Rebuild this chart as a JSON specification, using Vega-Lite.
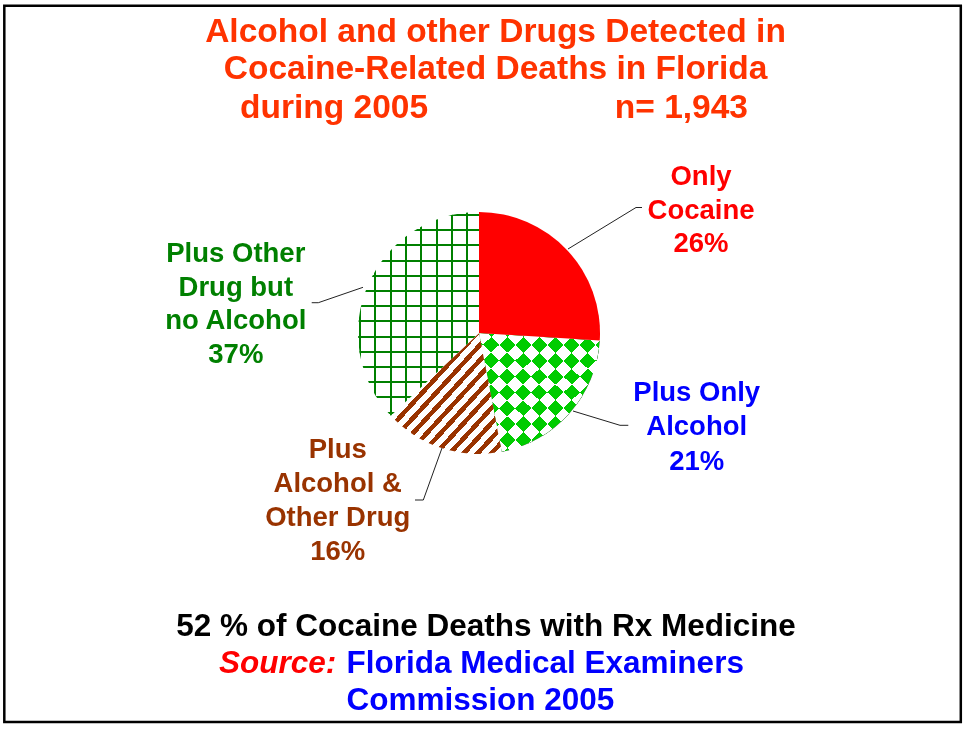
{
  "$schema": "https://vega.github.io/schema/vega-lite/v6.json",
  "width": 965,
  "height": 729,
  "padding": 0,
  "autosize": {"type": "none"},
  "background": "white",
  "config": {"view": {"stroke": null}},
  "datasets": {
    "slices": [
      {"cat": "Only Cocaine", "pct": 26, "ord": 1, "label": ["Only", "Cocaine", "26%"]},
      {"cat": "Plus Only Alcohol", "pct": 21, "ord": 2, "label": ["Plus Only", "Alcohol", "21%"]},
      {"cat": "Plus Alcohol & Other Drug", "pct": 16, "ord": 3, "label": ["Plus", "Alcohol &", "Other Drug", "16%"]},
      {"cat": "Plus Other Drug but no Alcohol", "pct": 37, "ord": 4, "label": ["Plus Other", "Drug but", "no Alcohol", "37%"]}
    ]
  },
  "data": {"values": [{}]},
  "layer": [
    {
      "mark": {"type": "rect", "fill": "transparent", "stroke": "#000000", "strokeWidth": 2.5},
      "encoding": {
        "x": {"datum": -3.9231, "type": "quantitative", "scale": {"domain": [-3.9587, 4.0165], "nice": false, "zero": false}, "axis": null},
        "x2": {"datum": 3.9818},
        "y": {"datum": 2.705, "type": "quantitative", "scale": {"domain": [-3.2727, 2.7521], "nice": false, "zero": false}, "axis": null},
        "y2": {"datum": -3.214}
      }
    },
    {
      "data": {"name": "slices"},
      "transform": [
        {"stack": "pct", "groupby": [], "sort": [{"field": "ord", "order": "ascending"}], "as": ["p0", "p1"]}
      ],
      "encoding": {
        "x": {"datum": 0, "type": "quantitative", "scale": {"domain": [-3.9587, 4.0165], "nice": false, "zero": false}, "axis": null},
        "y": {"datum": 0, "type": "quantitative", "scale": {"domain": [-3.2727, 2.7521], "nice": false, "zero": false}, "axis": null},
        "theta": {"field": "p0", "type": "quantitative", "scale": {"domain": [0, 100]}},
        "theta2": {"field": "p1"}
      },
      "layer": [
        {
          "transform": [{"filter": "datum.ord === 2"}],
          "mark": {"type": "arc", "radius": 121, "fill": {"gradient": "linear", "x1": 0, "y1": 0, "x2": 1, "y2": 1, "stops": [
            {"offset": 0, "color": "#000000"}, {"offset": 0.0667, "color": "#000000"}, {"offset": 0.0667, "color": "#ffffff"}, {"offset": 0.1333, "color": "#ffffff"},
            {"offset": 0.1333, "color": "#000000"}, {"offset": 0.2, "color": "#000000"}, {"offset": 0.2, "color": "#ffffff"}, {"offset": 0.2667, "color": "#ffffff"},
            {"offset": 0.2667, "color": "#000000"}, {"offset": 0.3333, "color": "#000000"}, {"offset": 0.3333, "color": "#ffffff"}, {"offset": 0.4, "color": "#ffffff"},
            {"offset": 0.4, "color": "#000000"}, {"offset": 0.4667, "color": "#000000"}, {"offset": 0.4667, "color": "#ffffff"}, {"offset": 0.5333, "color": "#ffffff"},
            {"offset": 0.5333, "color": "#000000"}, {"offset": 0.6, "color": "#000000"}, {"offset": 0.6, "color": "#ffffff"}, {"offset": 0.6667, "color": "#ffffff"},
            {"offset": 0.6667, "color": "#000000"}, {"offset": 0.7333, "color": "#000000"}, {"offset": 0.7333, "color": "#ffffff"}, {"offset": 0.8, "color": "#ffffff"},
            {"offset": 0.8, "color": "#000000"}, {"offset": 0.8667, "color": "#000000"}, {"offset": 0.8667, "color": "#ffffff"}, {"offset": 0.9333, "color": "#ffffff"},
            {"offset": 0.9333, "color": "#000000"}, {"offset": 1, "color": "#000000"}]}}
        },
        {
          "transform": [{"filter": "datum.ord === 2"}],
          "mark": {"type": "arc", "radius": 121, "blend": "difference", "fill": {"gradient": "linear", "x1": 0, "y1": 1, "x2": 1, "y2": 0, "stops": [
            {"offset": 0, "color": "#000000"}, {"offset": 0.0667, "color": "#000000"}, {"offset": 0.0667, "color": "#ffffff"}, {"offset": 0.1333, "color": "#ffffff"},
            {"offset": 0.1333, "color": "#000000"}, {"offset": 0.2, "color": "#000000"}, {"offset": 0.2, "color": "#ffffff"}, {"offset": 0.2667, "color": "#ffffff"},
            {"offset": 0.2667, "color": "#000000"}, {"offset": 0.3333, "color": "#000000"}, {"offset": 0.3333, "color": "#ffffff"}, {"offset": 0.4, "color": "#ffffff"},
            {"offset": 0.4, "color": "#000000"}, {"offset": 0.4667, "color": "#000000"}, {"offset": 0.4667, "color": "#ffffff"}, {"offset": 0.5333, "color": "#ffffff"},
            {"offset": 0.5333, "color": "#000000"}, {"offset": 0.6, "color": "#000000"}, {"offset": 0.6, "color": "#ffffff"}, {"offset": 0.6667, "color": "#ffffff"},
            {"offset": 0.6667, "color": "#000000"}, {"offset": 0.7333, "color": "#000000"}, {"offset": 0.7333, "color": "#ffffff"}, {"offset": 0.8, "color": "#ffffff"},
            {"offset": 0.8, "color": "#000000"}, {"offset": 0.8667, "color": "#000000"}, {"offset": 0.8667, "color": "#ffffff"}, {"offset": 0.9333, "color": "#ffffff"},
            {"offset": 0.9333, "color": "#000000"}, {"offset": 1, "color": "#000000"}]}}
        },
        {
          "transform": [{"filter": "datum.ord === 2"}],
          "mark": {"type": "arc", "radius": 121, "blend": "screen", "fill": "#00cc00"}
        },
        {
          "transform": [{"filter": "datum.ord === 3"}],
          "mark": {"type": "arc", "radius": 121, "fill": {"gradient": "linear", "x1": 0, "y1": 0, "x2": 1, "y2": 1, "stops": [
            {"offset": 0, "color": "#993300"}, {"offset": 0.028, "color": "#993300"}, {"offset": 0.028, "color": "#ffffff"}, {"offset": 0.0625, "color": "#ffffff"},
            {"offset": 0.0625, "color": "#993300"}, {"offset": 0.0905, "color": "#993300"}, {"offset": 0.0905, "color": "#ffffff"}, {"offset": 0.125, "color": "#ffffff"},
            {"offset": 0.125, "color": "#993300"}, {"offset": 0.153, "color": "#993300"}, {"offset": 0.153, "color": "#ffffff"}, {"offset": 0.1875, "color": "#ffffff"},
            {"offset": 0.1875, "color": "#993300"}, {"offset": 0.2155, "color": "#993300"}, {"offset": 0.2155, "color": "#ffffff"}, {"offset": 0.25, "color": "#ffffff"},
            {"offset": 0.25, "color": "#993300"}, {"offset": 0.278, "color": "#993300"}, {"offset": 0.278, "color": "#ffffff"}, {"offset": 0.3125, "color": "#ffffff"},
            {"offset": 0.3125, "color": "#993300"}, {"offset": 0.3405, "color": "#993300"}, {"offset": 0.3405, "color": "#ffffff"}, {"offset": 0.375, "color": "#ffffff"},
            {"offset": 0.375, "color": "#993300"}, {"offset": 0.403, "color": "#993300"}, {"offset": 0.403, "color": "#ffffff"}, {"offset": 0.4375, "color": "#ffffff"},
            {"offset": 0.4375, "color": "#993300"}, {"offset": 0.4655, "color": "#993300"}, {"offset": 0.4655, "color": "#ffffff"}, {"offset": 0.5, "color": "#ffffff"},
            {"offset": 0.5, "color": "#993300"}, {"offset": 0.528, "color": "#993300"}, {"offset": 0.528, "color": "#ffffff"}, {"offset": 0.5625, "color": "#ffffff"},
            {"offset": 0.5625, "color": "#993300"}, {"offset": 0.5905, "color": "#993300"}, {"offset": 0.5905, "color": "#ffffff"}, {"offset": 0.625, "color": "#ffffff"},
            {"offset": 0.625, "color": "#993300"}, {"offset": 0.653, "color": "#993300"}, {"offset": 0.653, "color": "#ffffff"}, {"offset": 0.6875, "color": "#ffffff"},
            {"offset": 0.6875, "color": "#993300"}, {"offset": 0.7155, "color": "#993300"}, {"offset": 0.7155, "color": "#ffffff"}, {"offset": 0.75, "color": "#ffffff"},
            {"offset": 0.75, "color": "#993300"}, {"offset": 0.778, "color": "#993300"}, {"offset": 0.778, "color": "#ffffff"}, {"offset": 0.8125, "color": "#ffffff"},
            {"offset": 0.8125, "color": "#993300"}, {"offset": 0.8405, "color": "#993300"}, {"offset": 0.8405, "color": "#ffffff"}, {"offset": 0.875, "color": "#ffffff"},
            {"offset": 0.875, "color": "#993300"}, {"offset": 0.903, "color": "#993300"}, {"offset": 0.903, "color": "#ffffff"}, {"offset": 0.9375, "color": "#ffffff"},
            {"offset": 0.9375, "color": "#993300"}, {"offset": 0.9655, "color": "#993300"}, {"offset": 0.9655, "color": "#ffffff"}, {"offset": 1, "color": "#ffffff"}]}}
        },
        {
          "transform": [{"filter": "datum.ord === 4"}],
          "mark": {"type": "arc", "radius": 121, "fill": {"gradient": "linear", "x1": 0, "y1": 0, "x2": 1, "y2": 0, "stops": [
            {"offset": 0, "color": "#ffffff"}, {"offset": 0.0099, "color": "#ffffff"}, {"offset": 0.0099, "color": "#008000"}, {"offset": 0.0264, "color": "#008000"},
            {"offset": 0.0264, "color": "#ffffff"}, {"offset": 0.1361, "color": "#ffffff"}, {"offset": 0.1361, "color": "#008000"}, {"offset": 0.1526, "color": "#008000"},
            {"offset": 0.1526, "color": "#ffffff"}, {"offset": 0.2623, "color": "#ffffff"}, {"offset": 0.2623, "color": "#008000"}, {"offset": 0.2788, "color": "#008000"},
            {"offset": 0.2788, "color": "#ffffff"}, {"offset": 0.3885, "color": "#ffffff"}, {"offset": 0.3885, "color": "#008000"}, {"offset": 0.405, "color": "#008000"},
            {"offset": 0.405, "color": "#ffffff"}, {"offset": 0.5147, "color": "#ffffff"}, {"offset": 0.5147, "color": "#008000"}, {"offset": 0.5312, "color": "#008000"},
            {"offset": 0.5312, "color": "#ffffff"}, {"offset": 0.6409, "color": "#ffffff"}, {"offset": 0.6409, "color": "#008000"}, {"offset": 0.6574, "color": "#008000"},
            {"offset": 0.6574, "color": "#ffffff"}, {"offset": 0.7671, "color": "#ffffff"}, {"offset": 0.7671, "color": "#008000"}, {"offset": 0.7836, "color": "#008000"},
            {"offset": 0.7836, "color": "#ffffff"}, {"offset": 0.8933, "color": "#ffffff"}, {"offset": 0.8933, "color": "#008000"}, {"offset": 0.9098, "color": "#008000"},
            {"offset": 0.9098, "color": "#ffffff"}, {"offset": 1, "color": "#ffffff"}]}}
        },
        {
          "transform": [{"filter": "datum.ord === 4"}],
          "mark": {"type": "arc", "radius": 121, "fill": {"gradient": "linear", "x1": 0, "y1": 0, "x2": 0, "y2": 1, "stops": [
            {"offset": 0, "color": "rgba(0,128,0,0)"}, {"offset": 0.0098, "color": "rgba(0,128,0,0)"}, {"offset": 0.0098, "color": "#008000"}, {"offset": 0.0196, "color": "#008000"},
            {"offset": 0.0196, "color": "rgba(0,128,0,0)"}, {"offset": 0.0844, "color": "rgba(0,128,0,0)"}, {"offset": 0.0844, "color": "#008000"}, {"offset": 0.0942, "color": "#008000"},
            {"offset": 0.0942, "color": "rgba(0,128,0,0)"}, {"offset": 0.159, "color": "rgba(0,128,0,0)"}, {"offset": 0.159, "color": "#008000"}, {"offset": 0.1688, "color": "#008000"},
            {"offset": 0.1688, "color": "rgba(0,128,0,0)"}, {"offset": 0.2336, "color": "rgba(0,128,0,0)"}, {"offset": 0.2336, "color": "#008000"}, {"offset": 0.2434, "color": "#008000"},
            {"offset": 0.2434, "color": "rgba(0,128,0,0)"}, {"offset": 0.3082, "color": "rgba(0,128,0,0)"}, {"offset": 0.3082, "color": "#008000"}, {"offset": 0.318, "color": "#008000"},
            {"offset": 0.318, "color": "rgba(0,128,0,0)"}, {"offset": 0.3827, "color": "rgba(0,128,0,0)"}, {"offset": 0.3827, "color": "#008000"}, {"offset": 0.3925, "color": "#008000"},
            {"offset": 0.3925, "color": "rgba(0,128,0,0)"}, {"offset": 0.4573, "color": "rgba(0,128,0,0)"}, {"offset": 0.4573, "color": "#008000"}, {"offset": 0.4671, "color": "#008000"},
            {"offset": 0.4671, "color": "rgba(0,128,0,0)"}, {"offset": 0.5319, "color": "rgba(0,128,0,0)"}, {"offset": 0.5319, "color": "#008000"}, {"offset": 0.5417, "color": "#008000"},
            {"offset": 0.5417, "color": "rgba(0,128,0,0)"}, {"offset": 0.6065, "color": "rgba(0,128,0,0)"}, {"offset": 0.6065, "color": "#008000"}, {"offset": 0.6163, "color": "#008000"},
            {"offset": 0.6163, "color": "rgba(0,128,0,0)"}, {"offset": 0.6811, "color": "rgba(0,128,0,0)"}, {"offset": 0.6811, "color": "#008000"}, {"offset": 0.6909, "color": "#008000"},
            {"offset": 0.6909, "color": "rgba(0,128,0,0)"}, {"offset": 0.7557, "color": "rgba(0,128,0,0)"}, {"offset": 0.7557, "color": "#008000"}, {"offset": 0.7655, "color": "#008000"},
            {"offset": 0.7655, "color": "rgba(0,128,0,0)"}, {"offset": 0.8302, "color": "rgba(0,128,0,0)"}, {"offset": 0.8302, "color": "#008000"}, {"offset": 0.84, "color": "#008000"},
            {"offset": 0.84, "color": "rgba(0,128,0,0)"}, {"offset": 0.9048, "color": "rgba(0,128,0,0)"}, {"offset": 0.9048, "color": "#008000"}, {"offset": 0.9146, "color": "#008000"},
            {"offset": 0.9146, "color": "rgba(0,128,0,0)"}, {"offset": 0.9794, "color": "rgba(0,128,0,0)"}, {"offset": 0.9794, "color": "#008000"}, {"offset": 0.9892, "color": "#008000"},
            {"offset": 0.9892, "color": "rgba(0,128,0,0)"}, {"offset": 1, "color": "rgba(0,128,0,0)"}]}}
        },
        {
          "transform": [{"filter": "datum.ord === 1"}],
          "mark": {"type": "arc", "radius": 121, "fill": "#ff0000"}
        },
        {
          "transform": [{"filter": "datum.ord === 1"}],
          "mark": {"type": "text", "align": "center", "baseline": "alphabetic", "lineHeight": 33.5, "font": "Liberation Sans", "fontSize": 27.5, "fontWeight": "bold", "fill": "#ff0000"},
          "encoding": {
            "x": {"datum": 1.8347, "type": "quantitative", "scale": {"domain": [-3.9587, 4.0165], "nice": false, "zero": false}, "axis": null},
            "y": {"datum": 1.2231, "type": "quantitative", "scale": {"domain": [-3.2727, 2.7521], "nice": false, "zero": false}, "axis": null},
            "text": {"field": "label"},
            "theta": null, "theta2": null
          }
        },
        {
          "transform": [{"filter": "datum.ord === 2"}],
          "mark": {"type": "text", "align": "center", "baseline": "alphabetic", "lineHeight": 34.7, "font": "Liberation Sans", "fontSize": 27.5, "fontWeight": "bold", "fill": "#0000ff"},
          "encoding": {
            "x": {"datum": 1.7992, "type": "quantitative", "scale": {"domain": [-3.9587, 4.0165], "nice": false, "zero": false}, "axis": null},
            "y": {"datum": -0.5595, "type": "quantitative", "scale": {"domain": [-3.2727, 2.7521], "nice": false, "zero": false}, "axis": null},
            "text": {"field": "label"},
            "theta": null, "theta2": null
          }
        },
        {
          "transform": [{"filter": "datum.ord === 3"}],
          "mark": {"type": "text", "align": "center", "baseline": "alphabetic", "lineHeight": 33.9, "font": "Liberation Sans", "fontSize": 27.5, "fontWeight": "bold", "fill": "#993300"},
          "encoding": {
            "x": {"datum": -1.1678, "type": "quantitative", "scale": {"domain": [-3.9587, 4.0165], "nice": false, "zero": false}, "axis": null},
            "y": {"datum": -1.0355, "type": "quantitative", "scale": {"domain": [-3.2727, 2.7521], "nice": false, "zero": false}, "axis": null},
            "text": {"field": "label"},
            "theta": null, "theta2": null
          }
        },
        {
          "transform": [{"filter": "datum.ord === 4"}],
          "mark": {"type": "text", "align": "center", "baseline": "alphabetic", "lineHeight": 33.9, "font": "Liberation Sans", "fontSize": 27.5, "fontWeight": "bold", "fill": "#008000"},
          "encoding": {
            "x": {"datum": -2.0099, "type": "quantitative", "scale": {"domain": [-3.9587, 4.0165], "nice": false, "zero": false}, "axis": null},
            "y": {"datum": 0.5893, "type": "quantitative", "scale": {"domain": [-3.2727, 2.7521], "nice": false, "zero": false}, "axis": null},
            "text": {"field": "label"},
            "theta": null, "theta2": null
          }
        }
      ]
    },
    {
      "mark": {"type": "rule", "stroke": "#222222", "strokeWidth": 1},
      "encoding": {
        "x": {"datum": 0.7355, "type": "quantitative", "scale": {"domain": [-3.9587, 4.0165], "nice": false, "zero": false}, "axis": null},
        "y": {"datum": 0.6942, "type": "quantitative", "scale": {"domain": [-3.2727, 2.7521], "nice": false, "zero": false}, "axis": null},
        "x2": {"datum": 1.2975}, "y2": {"datum": 1.0372}
      }
    },
    {
      "mark": {"type": "rule", "stroke": "#222222", "strokeWidth": 1},
      "encoding": {
        "x": {"datum": 1.2975, "type": "quantitative", "scale": {"domain": [-3.9587, 4.0165], "nice": false, "zero": false}, "axis": null},
        "y": {"datum": 1.0372, "type": "quantitative", "scale": {"domain": [-3.2727, 2.7521], "nice": false, "zero": false}, "axis": null},
        "x2": {"datum": 1.3471}, "y2": {"datum": 1.0372}
      }
    },
    {
      "mark": {"type": "rule", "stroke": "#222222", "strokeWidth": 1},
      "encoding": {
        "x": {"datum": 0.7769, "type": "quantitative", "scale": {"domain": [-3.9587, 4.0165], "nice": false, "zero": false}, "axis": null},
        "y": {"datum": -0.6446, "type": "quantitative", "scale": {"domain": [-3.2727, 2.7521], "nice": false, "zero": false}, "axis": null},
        "x2": {"datum": 1.1653}, "y2": {"datum": -0.7628}
      }
    },
    {
      "mark": {"type": "rule", "stroke": "#222222", "strokeWidth": 1},
      "encoding": {
        "x": {"datum": 1.1653, "type": "quantitative", "scale": {"domain": [-3.9587, 4.0165], "nice": false, "zero": false}, "axis": null},
        "y": {"datum": -0.7628, "type": "quantitative", "scale": {"domain": [-3.2727, 2.7521], "nice": false, "zero": false}, "axis": null},
        "x2": {"datum": 1.2339}, "y2": {"datum": -0.7628}
      }
    },
    {
      "mark": {"type": "rule", "stroke": "#222222", "strokeWidth": 1},
      "encoding": {
        "x": {"datum": -0.3058, "type": "quantitative", "scale": {"domain": [-3.9587, 4.0165], "nice": false, "zero": false}, "axis": null},
        "y": {"datum": -0.9504, "type": "quantitative", "scale": {"domain": [-3.2727, 2.7521], "nice": false, "zero": false}, "axis": null},
        "x2": {"datum": -0.4603}, "y2": {"datum": -1.3802}
      }
    },
    {
      "mark": {"type": "rule", "stroke": "#222222", "strokeWidth": 1},
      "encoding": {
        "x": {"datum": -0.4603, "type": "quantitative", "scale": {"domain": [-3.9587, 4.0165], "nice": false, "zero": false}, "axis": null},
        "y": {"datum": -1.3802, "type": "quantitative", "scale": {"domain": [-3.2727, 2.7521], "nice": false, "zero": false}, "axis": null},
        "x2": {"datum": -0.5289}, "y2": {"datum": -1.3802}
      }
    },
    {
      "mark": {"type": "rule", "stroke": "#222222", "strokeWidth": 1},
      "encoding": {
        "x": {"datum": -0.9587, "type": "quantitative", "scale": {"domain": [-3.9587, 4.0165], "nice": false, "zero": false}, "axis": null},
        "y": {"datum": 0.3777, "type": "quantitative", "scale": {"domain": [-3.2727, 2.7521], "nice": false, "zero": false}, "axis": null},
        "x2": {"datum": -1.3281}, "y2": {"datum": 0.2504}
      }
    },
    {
      "mark": {"type": "rule", "stroke": "#222222", "strokeWidth": 1},
      "encoding": {
        "x": {"datum": -1.3281, "type": "quantitative", "scale": {"domain": [-3.9587, 4.0165], "nice": false, "zero": false}, "axis": null},
        "y": {"datum": 0.2504, "type": "quantitative", "scale": {"domain": [-3.2727, 2.7521], "nice": false, "zero": false}, "axis": null},
        "x2": {"datum": -1.3826}, "y2": {"datum": 0.2504}
      }
    },
    {
      "mark": {"type": "text", "align": "center", "baseline": "alphabetic", "lineHeight": 37.5, "font": "Liberation Sans", "fontSize": 33.5, "fontWeight": "bold", "fill": "#ff3300"},
      "encoding": {
        "x": {"datum": 0.1364, "type": "quantitative", "scale": {"domain": [-3.9587, 4.0165], "nice": false, "zero": false}, "axis": null},
        "y": {"datum": 2.405, "type": "quantitative", "scale": {"domain": [-3.2727, 2.7521], "nice": false, "zero": false}, "axis": null},
        "text": {"value": ["Alcohol and other Drugs Detected in", "Cocaine-Related Deaths in Florida"]}
      }
    },
    {
      "mark": {"type": "text", "align": "left", "baseline": "alphabetic", "font": "Liberation Sans", "fontSize": 33.5, "fontWeight": "bold", "fill": "#ff3300"},
      "encoding": {
        "x": {"datum": -1.9752, "type": "quantitative", "scale": {"domain": [-3.9587, 4.0165], "nice": false, "zero": false}, "axis": null},
        "y": {"datum": 1.781, "type": "quantitative", "scale": {"domain": [-3.2727, 2.7521], "nice": false, "zero": false}, "axis": null},
        "text": {"value": "during 2005"}
      }
    },
    {
      "mark": {"type": "text", "align": "right", "baseline": "alphabetic", "font": "Liberation Sans", "fontSize": 33.5, "fontWeight": "bold", "fill": "#ff3300"},
      "encoding": {
        "x": {"datum": 2.2231, "type": "quantitative", "scale": {"domain": [-3.9587, 4.0165], "nice": false, "zero": false}, "axis": null},
        "y": {"datum": 1.781, "type": "quantitative", "scale": {"domain": [-3.2727, 2.7521], "nice": false, "zero": false}, "axis": null},
        "text": {"value": "n= 1,943"}
      }
    },
    {
      "mark": {"type": "text", "align": "center", "baseline": "alphabetic", "font": "Liberation Sans", "fontSize": 31.5, "fontWeight": "bold", "fill": "#000000"},
      "encoding": {
        "x": {"datum": 0.0579, "type": "quantitative", "scale": {"domain": [-3.9587, 4.0165], "nice": false, "zero": false}, "axis": null},
        "y": {"datum": -2.5041, "type": "quantitative", "scale": {"domain": [-3.2727, 2.7521], "nice": false, "zero": false}, "axis": null},
        "text": {"value": "52 % of Cocaine Deaths with Rx Medicine"}
      }
    },
    {
      "mark": {"type": "text", "align": "left", "baseline": "alphabetic", "font": "Liberation Sans", "fontSize": 31.5, "fontWeight": "bold", "fontStyle": "italic", "fill": "#ff0000"},
      "encoding": {
        "x": {"datum": -2.1488, "type": "quantitative", "scale": {"domain": [-3.9587, 4.0165], "nice": false, "zero": false}, "axis": null},
        "y": {"datum": -2.8099, "type": "quantitative", "scale": {"domain": [-3.2727, 2.7521], "nice": false, "zero": false}, "axis": null},
        "text": {"value": "Source:"}
      }
    },
    {
      "mark": {"type": "text", "align": "left", "baseline": "alphabetic", "font": "Liberation Sans", "fontSize": 31.5, "fontWeight": "bold", "fill": "#0000ff"},
      "encoding": {
        "x": {"datum": -1.095, "type": "quantitative", "scale": {"domain": [-3.9587, 4.0165], "nice": false, "zero": false}, "axis": null},
        "y": {"datum": -2.8099, "type": "quantitative", "scale": {"domain": [-3.2727, 2.7521], "nice": false, "zero": false}, "axis": null},
        "text": {"value": "Florida Medical Examiners"}
      }
    },
    {
      "mark": {"type": "text", "align": "left", "baseline": "alphabetic", "font": "Liberation Sans", "fontSize": 31.5, "fontWeight": "bold", "fill": "#0000ff"},
      "encoding": {
        "x": {"datum": -1.095, "type": "quantitative", "scale": {"domain": [-3.9587, 4.0165], "nice": false, "zero": false}, "axis": null},
        "y": {"datum": -3.1157, "type": "quantitative", "scale": {"domain": [-3.2727, 2.7521], "nice": false, "zero": false}, "axis": null},
        "text": {"value": "Commission 2005"}
      }
    }
  ]
}
